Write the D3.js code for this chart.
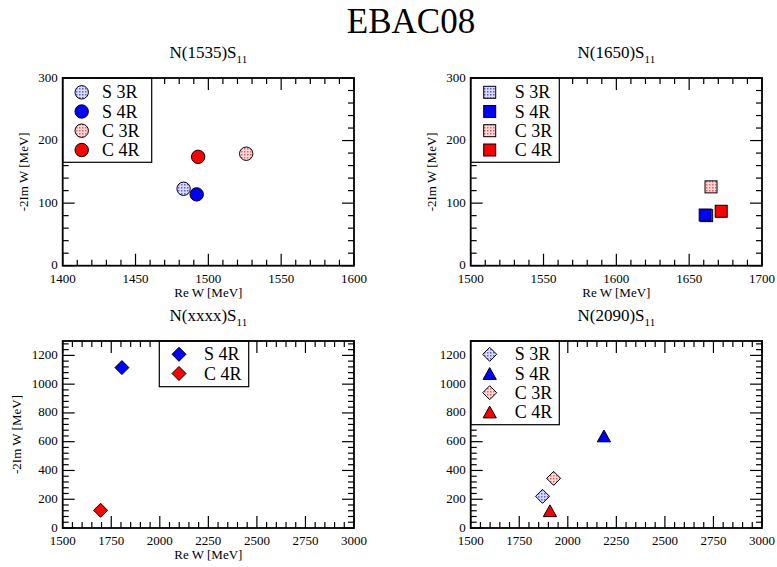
<!DOCTYPE html>
<html><head><meta charset="utf-8">
<script src="https://cdn.jsdelivr.net/npm/d3@7"></script>
<style>
body{margin:0;background:#fff}
svg text, svg tspan{font-family:"Liberation Serif","Times New Roman",serif;fill:#000}
</style>
</head><body><svg id="c" width="777" height="567" font-family="Liberation Serif, serif"></svg>
<script>
// ---- data ----
const seriesFour = ["S 3R", "S 4R", "C 3R", "C 4R"];
const seriesTwo = ["S 4R", "C 4R"];
const n1535Re = [1483, 1492, 1526, 1493];
const n1535Im = [123, 114, 179, 174];
const n1650Re = [1662, 1661, 1665, 1672];
const n1650Im = [80, 81, 126, 87];
const nxxxxRe = [1805, 1695];
const nxxxxIm = [1115, 123];
const n2090Re = [1870, 2186, 1927, 1908];
const n2090Im = [220, 640, 345, 120];
const xTicks1535 = [1400, 1450, 1500, 1550, 1600];
const xTicks1650 = [1500, 1550, 1600, 1650, 1700];
const yTicksTop = [0, 100, 200, 300];
const xTicksBottom = [1500, 1750, 2000, 2250, 2500, 2750, 3000];
const yTicksBottom = [0, 200, 400, 600, 800, 1000, 1200];
const mainTitle = "EBAC08";
const xLabel = "Re W [MeV]";
const yLabel = "-2Im W [MeV]";

const FONT = "'Liberation Serif', 'Times New Roman', serif";
const svg = d3.select("#c");
const defs = svg.append("defs");
function pat(id, bg, dot) {
  const p = defs.append("pattern").attr("id", id).attr("width", 3).attr("height", 3)
    .attr("patternUnits", "userSpaceOnUse");
  p.append("rect").attr("width", 3).attr("height", 3).attr("fill", bg);
  p.append("rect").attr("x", 1).attr("y", 1).attr("width", 1.5).attr("height", 1.5).attr("fill", dot);
}
pat("pb", "#dcdcff", "#5a5aff");
pat("pr", "#ffdcdc", "#ff5a5a");

const FILL = {pb: "url(#pb)", b: "#0000ff", pr: "url(#pr)", r: "#ff0000"};

const panels = [
  {name: "N(1535)S", sub: "11", box: [62.7, 78, 354, 265.7], xd: [1400, 1600], yd: [0, 300],
   xt: xTicks1535, yt: yTicksTop, xm: 10, ym: 20, series: seriesFour, re: n1535Re, im: n1535Im,
   sym: ["circle", "circle", "circle", "circle"], fill: ["pb", "b", "pr", "r"],
   leg: {x0: 62.7, x1: 151.7, symX: 81.7, textX: 102, rows: [92.3, 111.5, 130.7, 150], y1: 162.3},
   xl: true, yl: true, ylx: 28},
  {name: "N(1650)S", sub: "11", box: [470.7, 78, 762, 265.7], xd: [1500, 1700], yd: [0, 300],
   xt: xTicks1650, yt: yTicksTop, xm: 10, ym: 20, series: seriesFour, re: n1650Re, im: n1650Im,
   sym: ["square", "square", "square", "square"], fill: ["pb", "b", "pr", "r"],
   leg: {x0: 470.7, x1: 559.3, symX: 489.7, textX: 514.7, rows: [92.3, 111.5, 130.7, 150], y1: 162.3},
   xl: true, yl: true, ylx: 435.5},
  {name: "N(xxxx)S", sub: "11", box: [62.7, 341, 354, 528], xd: [1500, 3000], yd: [0, 1300],
   xt: xTicksBottom, yt: yTicksBottom, xm: 50, ym: 40, series: seriesTwo, re: nxxxxRe, im: nxxxxIm,
   sym: ["diamond", "diamond"], fill: ["b", "r"],
   leg: {x0: 159.3, x1: 248.7, symX: 179, textX: 204, rows: [354.3, 373.5], y1: 386.7},
   xl: true, yl: true, ylx: 21},
  {name: "N(2090)S", sub: "11", box: [470.7, 341, 762, 528], xd: [1500, 3000], yd: [0, 1300],
   xt: xTicksBottom, yt: yTicksBottom, xm: 50, ym: 40, series: seriesFour, re: n2090Re, im: n2090Im,
   sym: ["diamond", "triangle", "diamond", "triangle"], fill: ["pb", "b", "pr", "r"],
   leg: {x0: 470.7, x1: 559.3, symX: 489.7, textX: 514.7, rows: [354.3, 373.5, 392.7, 412], y1: 424.7},
   xl: false, yl: false}
];

function marker(g, type, cx, cy, fill) {
  let el;
  if (type === "circle") {
    el = g.append("circle").attr("cx", cx).attr("cy", cy).attr("r", 6.7);
  } else if (type === "square") {
    el = g.append("rect").attr("x", cx - 6).attr("y", cy - 6).attr("width", 12).attr("height", 12);
  } else if (type === "diamond") {
    const h = 7;
    el = g.append("path").attr("d", `M${cx},${cy - h}L${cx + h},${cy}L${cx},${cy + h}L${cx - h},${cy}Z`);
  } else {
    const w = 6.6, hh = 5.9;
    el = g.append("path").attr("d", `M${cx},${cy - hh}L${cx + w},${cy + hh}L${cx - w},${cy + hh}Z`);
  }
  el.attr("fill", FILL[fill]).attr("stroke", "#000").attr("stroke-width", 1).attr("stroke-linejoin", "miter");
}

function txt(g) { return g.append("text").style("font-family", FONT).attr("fill", "#000"); }

txt(svg).attr("x", 411).attr("y", 33).attr("text-anchor", "middle")
  .attr("font-size", 35).text(mainTitle);

panels.forEach(p => {
  const [x0, y0, x1, y1] = p.box;
  const x = d3.scaleLinear().domain(p.xd).range([x0, x1]);
  const y = d3.scaleLinear().domain(p.yd).range([y1, y0]);
  const g = svg.append("g");

  // subtitle
  const st = txt(g).attr("x", (x0 + x1) / 2).attr("y", y0 - 20)
    .attr("text-anchor", "middle").attr("font-size", 17);
  st.append("tspan").text(p.name);
  st.append("tspan").attr("font-size", 11).attr("dy", 5).text(p.sub);

  // ticks
  const tk = g.append("g").attr("stroke", "#000").attr("stroke-width", 1.2);
  const isMajor = (v, arr) => arr.some(a => Math.abs(a - v) < 1e-6);
  const xAll = d3.range(p.xd[0], p.xd[1] + 1e-6, p.xm);
  const yAll = d3.range(p.yd[0], p.yd[1] + 1e-6, p.ym);
  xAll.forEach(v => {
    const L = isMajor(v, p.xt) ? 12 : 6;
    const px = x(v);
    tk.append("line").attr("x1", px).attr("x2", px).attr("y1", y1).attr("y2", y1 - L);
    tk.append("line").attr("x1", px).attr("x2", px).attr("y1", y0).attr("y2", y0 + L);
  });
  yAll.forEach(v => {
    const L = isMajor(v, p.yt) ? 12 : 6;
    const py = y(v);
    tk.append("line").attr("y1", py).attr("y2", py).attr("x1", x0).attr("x2", x0 + L);
    tk.append("line").attr("y1", py).attr("y2", py).attr("x1", x1).attr("x2", x1 - L);
  });

  // tick labels
  p.xt.forEach(v => {
    txt(g).attr("x", x(v)).attr("y", y1 + 17).attr("text-anchor", "middle")
      .attr("font-size", 13).text(v);
  });
  p.yt.forEach(v => {
    txt(g).attr("x", x0 - 5).attr("y", y(v) + 3.5).attr("text-anchor", "end")
      .attr("font-size", 13).text(v);
  });

  // axis labels
  if (p.xl) {
    txt(g).attr("x", (x0 + x1) / 2).attr("y", y1 + 31).attr("text-anchor", "middle")
      .attr("font-size", 13).text(xLabel);
  }
  if (p.yl) {
    txt(g).attr("transform", `translate(${p.ylx},${(y0 + y1) / 2}) rotate(-90)`)
      .attr("text-anchor", "middle").attr("font-size", 13).text(yLabel);
  }

  // points
  p.series.forEach((s, i) => marker(g, p.sym[i], x(p.re[i]), y(p.im[i]), p.fill[i]));

  // legend
  const lg = p.leg;
  g.append("rect").attr("x", lg.x0).attr("y", y0).attr("width", lg.x1 - lg.x0).attr("height", lg.y1 - y0)
    .attr("fill", "#fff").attr("stroke", "#000").attr("stroke-width", 1.2);
  p.series.forEach((s, i) => {
    marker(g, p.sym[i], lg.symX, lg.rows[i], p.fill[i]);
    txt(g).attr("x", lg.textX).attr("y", lg.rows[i] + 6).attr("font-size", 18).text(s);
  });

  // frame
  g.append("rect").attr("x", x0).attr("y", y0).attr("width", x1 - x0).attr("height", y1 - y0)
    .attr("fill", "none").attr("stroke", "#000").attr("stroke-width", 1.8);
});
</script>
</body></html>
